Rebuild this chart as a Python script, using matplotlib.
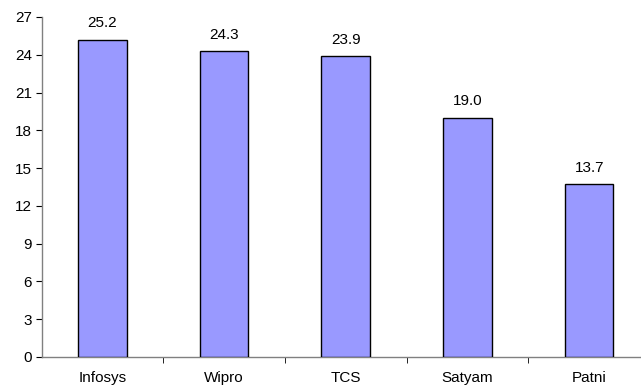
import matplotlib
matplotlib.use("Agg")
import matplotlib.pyplot as plt
import numpy as np

categories = ["Infosys", "Wipro", "TCS", "Satyam", "Patni"]
values = [25.2, 24.3, 23.9, 19.0, 13.7]
yticks = [0, 3, 6, 9, 12, 15, 18, 21, 24, 27]

plt.rcParams['font.family'] = ['Liberation Sans', 'DejaVu Sans']

fig = plt.figure(figsize=(6.41, 3.88), dpi=100)
ax = fig.add_axes([41.6/641, 1-357/388, (650-41.6)/641, (357-17)/388])

x = np.arange(len(categories))
bars = ax.bar(x, values, width=0.4, color="#9999FF", edgecolor="black", linewidth=1, zorder=3)
for xi, v in zip(x, values):
    ax.text(xi, v + 0.75, f"{v:.1f}", ha="center", va="bottom", fontsize=11)

ax.set_xlim(-0.5, len(categories) - 0.5)
ax.set_ylim(0, 27)
ax.set_yticks(yticks)
ax.set_yticklabels([str(t) for t in yticks], fontsize=11)
ax.set_xticks(x)
ax.set_xticklabels(categories, fontsize=11)
ax.tick_params(axis="x", which="major", length=0, pad=10)
ax.set_xticks(np.arange(0.5, len(categories) - 0.5, 1), minor=True)
ax.tick_params(axis="x", which="minor", length=4, direction="out", color="black")
ax.tick_params(axis="y", length=4, direction="out", color="black", pad=3)

for s in ["top", "right"]:
    ax.spines[s].set_visible(False)
for s in ["left", "bottom"]:
    ax.spines[s].set_color("#808080")
    ax.spines[s].set_linewidth(1)

fig.savefig("out.png", dpi=100)
